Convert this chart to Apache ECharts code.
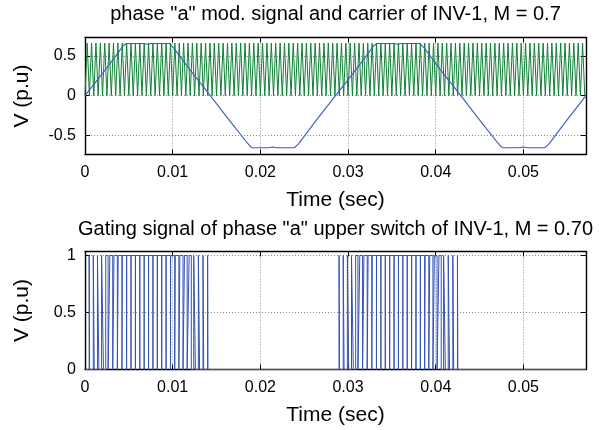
<!DOCTYPE html>
<html>
<head>
<meta charset="utf-8">
<script src="https://cdn.jsdelivr.net/npm/echarts@6/dist/echarts.min.js"></script>
<style>
  html, body { margin: 0; padding: 0; background: #fff; }
  #chart { width: 603px; height: 430px; }
</style>
</head>
<body>
<div id="chart"></div>
<script>
// ---- data ----
const xMax = 0.05714;
const xTicks = [0, 0.01, 0.02, 0.03, 0.04, 0.05];
const topYTicks = [-0.5, 0, 0.5];
const lowYTicks = [0, 0.5, 1];

// carrier: vertex times, alternating valley / peak
const carrierLevels = [0, 0.66];
const carrierTimes = [
  0,.00025,.0005,.00075,.001,.00125,.0015,.00175,
  .002,.00225,.0025,.00275,.003,.00325,.0035,.00375,
  .004,.00425,.0045,.00475,.005,.00525,.0055,.00575,
  .006,.00625,.0065,.00675,.007,.00725,.0075,.00775,
  .008,.00825,.0085,.00875,.009,.00925,.0095,.00975,
  .010,.01025,.0105,.01075,.011,.01125,.0115,.01175,
  .012,.01225,.0125,.01275,.013,.01325,.0135,.01375,
  .014,.01425,.0145,.01475,.015,.01525,.0155,.01575,
  .016,.01625,.0165,.01675,.017,.01725,.0175,.01775,
  .018,.01825,.0185,.01875,.019,.01925,.0195,.01975,
  .020,.02025,.0205,.02075,.021,.02125,.0215,.02175,
  .022,.02225,.0225,.02275,.023,.02325,.0235,.02375,
  .024,.02425,.0245,.02475,.025,.02525,.0255,.02575,
  .026,.02625,.0265,.02675,.027,.02725,.0275,.02775,
  .028,.02825,.0285,.02875,.029,.02925,.0295,.02975,
  .030,.03025,.0305,.03075,.031,.03125,.0315,.03175,
  .032,.03225,.0325,.03275,.033,.03325,.0335,.03375,
  .034,.03425,.0345,.03475,.035,.03525,.0355,.03575,
  .036,.03625,.0365,.03675,.037,.03725,.0375,.03775,
  .038,.03825,.0385,.03875,.039,.03925,.0395,.03975,
  .040,.04025,.0405,.04075,.041,.04125,.0415,.04175,
  .042,.04225,.0425,.04275,.043,.04325,.0435,.04375,
  .044,.04425,.0445,.04475,.045,.04525,.0455,.04575,
  .046,.04625,.0465,.04675,.047,.04725,.0475,.04775,
  .048,.04825,.0485,.04875,.049,.04925,.0495,.04975,
  .050,.05025,.0505,.05075,.051,.05125,.0515,.05175,
  .052,.05225,.0525,.05275,.053,.05325,.0535,.05375,
  .054,.05425,.0545,.05475,.055,.05525,.0555,.05575,
  .056,.05625,.0565,.05675,.057
];

// modulating signal
const modTime = [
  0, .0020, .0038, .0043, .0047, .0066, .0071, .0076, .0096, .0101, .0120,
  .01429, .0166, .0184, .0190, .0209, .0214, .0219, .0239, .0244, .0263,
  .02857, .03057, .03237, .03287, .03327, .03517, .03567, .03617, .03817, .03867, .04057,
  .04286, .04517, .04697, .04757, .04947, .04997, .05047, .05247, .05297, .05487,
  .05714
];
const modValue = [
  0, .28, .54, .62, .655, .655, .645, .655, .655, .60, .32,
  0, -.33, -.58, -.655, -.655, -.645, -.655, -.655, -.60, -.32,
  0, .28, .54, .62, .655, .655, .645, .655, .655, .60, .32,
  0, -.33, -.58, -.655, -.655, -.645, -.655, -.655, -.60, -.32,
  0
];

// gating pulses (rising / falling edge times)
const gateOn = [
  .000473,.000946,.001419,.001892,.002365,.002838,.003311,.003784,.004257,.004752,
  .005252,.005752,.006252,.006752,.007252,.007752,.008252,.008752,.009252,.009768,
  .010295,.010822,.011349,.011876,.012403,.01293,.013457,.013984,
  .028977,.02945,.029923,.030396,.030869,.031342,.031815,.032288,.032761,.033252,
  .033752,.034252,.034752,.035252,.035752,.036252,.036752,.037252,.037752,.038264,
  .038791,.039318,.039845,.040372,.0409,.041426,.041953,.04248
];
const gateOff = [
  .000527,.001054,.001581,.002108,.002635,.003162,.003689,.004216,.004743,.005248,
  .005748,.006248,.006748,.007248,.007748,.008248,.008748,.009248,.009748,.010232,
  .010705,.011178,.011651,.012124,.012597,.01307,.013543,.014016,
  .029023,.02955,.030077,.030604,.031131,.031658,.032185,.032712,.033239,.033748,
  .034248,.034748,.035248,.035748,.036248,.036748,.037248,.037748,.038248,.038736,
  .039209,.039682,.040155,.040628,.0411,.041574,.042047,.04252
];
const gateLevels = [0, 1];

// ---- build series data ----
const carrierData = carrierTimes.map((t, i) => [t, carrierLevels[i % 2]]);
const modData = modTime.map((t, i) => [t, modValue[i]]);
const gateData = [[0, gateLevels[0]]];
gateOn.forEach((t, i) => {
  gateData.push([t, gateLevels[0]], [t, gateLevels[1]], [gateOff[i], gateLevels[1]], [gateOff[i], gateLevels[0]]);
});
gateData.push([xMax, gateLevels[0]]);

const FONT = '"Liberation Sans", Arial, sans-serif';
const fmt = v => String(parseFloat(v.toFixed(3)));
const grid = { type: [1, 2], color: '#8a8a8a', width: 1 };

function xAxis(gi, pos, main) {
  return {
    gridIndex: gi, type: 'value', position: pos, min: 0, max: xMax,
    name: main ? 'Time (sec)' : '', nameLocation: 'middle', nameGap: 35,
    nameTextStyle: { fontFamily: FONT, fontSize: 21, color: '#000' },
    axisLine: { show: true, onZero: false, lineStyle: { color: '#000', width: 1.4 } },
    axisTick: { show: true, inside: true, length: 5, customValues: xTicks, lineStyle: { color: '#000' } },
    axisLabel: { show: main, customValues: xTicks, formatter: fmt, margin: 10,
      fontFamily: FONT, fontSize: 16, color: '#000' },
    splitLine: { show: main, lineStyle: grid }
  };
}
function yAxis(gi, pos, main, range, ticks) {
  return {
    gridIndex: gi, type: 'value', position: pos, min: range[0], max: range[1],
    name: main ? 'V (p.u)' : '', nameLocation: 'middle', nameGap: 52,
    nameTextStyle: { fontFamily: FONT, fontSize: 21, color: '#000' },
    axisLine: { show: true, onZero: false, lineStyle: { color: '#000', width: 1.4 } },
    axisTick: { show: true, inside: true, length: 5, customValues: ticks, lineStyle: { color: '#000' } },
    axisLabel: { show: main, customValues: ticks, formatter: fmt, margin: 9,
      fontFamily: FONT, fontSize: 16, color: '#000' },
    splitLine: { show: main, lineStyle: grid }
  };
}

const chart = echarts.init(document.getElementById('chart'));
chart.setOption({
  animation: false,
  backgroundColor: '#fff',
  grid: [
    { left: 85, top: 37.5, width: 501, height: 117 },
    { left: 85, top: 251.5, width: 501, height: 118 }
  ],
  graphic: [
    { type: 'text', x: 335.5, y: 14, style: { text: 'phase "a" mod. signal and carrier of INV-1, M = 0.7',
      font: '20px ' + FONT, fill: '#000', align: 'center', verticalAlign: 'middle' } },
    { type: 'text', x: 335.5, y: 229, style: { text: 'Gating signal of phase "a" upper switch of INV-1, M = 0.70',
      font: '20px ' + FONT, fill: '#000', align: 'center', verticalAlign: 'middle' } }
  ],
  xAxis: [
    xAxis(0, 'bottom', true), xAxis(0, 'top', false),
    xAxis(1, 'bottom', true), xAxis(1, 'top', false)
  ],
  yAxis: [
    yAxis(0, 'left', true, [-0.74, 0.73], topYTicks), yAxis(0, 'right', false, [-0.74, 0.73], topYTicks),
    yAxis(1, 'left', true, [0, 1.035], lowYTicks), yAxis(1, 'right', false, [0, 1.035], lowYTicks)
  ],
  series: [
    { type: 'line', xAxisIndex: 0, yAxisIndex: 0, data: carrierData, showSymbol: false,
      lineStyle: { color: '#0e8035', width: 1 } },
    { type: 'line', xAxisIndex: 0, yAxisIndex: 0, data: modData, showSymbol: false,
      lineStyle: { color: '#3a5cc0', width: 1.1 } },
    { type: 'line', xAxisIndex: 2, yAxisIndex: 2, data: gateData, showSymbol: false,
      lineStyle: { color: '#3452b4', width: 1 } }
  ]
});
</script>
</body>
</html>
